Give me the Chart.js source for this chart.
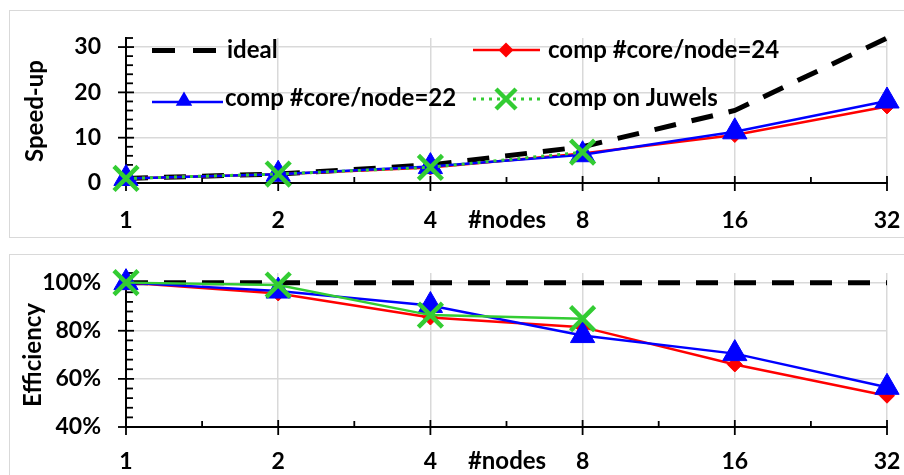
<!DOCTYPE html>
<html><head><meta charset="utf-8">
<script src="https://cdn.jsdelivr.net/npm/chart.js@4/dist/chart.umd.min.js"></script>
<style>
html,body{margin:0;padding:0;background:#fff;width:904px;height:475px;overflow:hidden;}
.box{position:absolute;border:1.5px solid #d9d9d9;box-sizing:border-box;}
#b1{left:9px;top:10px;width:1000px;height:228px;}
#b2{left:9px;top:254px;width:1000px;height:300px;}
#c1{position:absolute;left:0;top:0;}
#c2{position:absolute;left:0;top:245px;}
</style></head><body>
<div class="box" id="b1"></div><div class="box" id="b2"></div>
<canvas id="c1" width="904" height="245"></canvas>
<canvas id="c2" width="904" height="230"></canvas>
<script>
const nodes = [1, 2, 4, 8, 16, 32];
const juwelsNodes = [1, 2, 4, 8];
const speedIdeal = [1, 2, 4, 8, 16, 32];
const speed24 = [1, 1.91, 3.42, 6.52, 10.6, 16.9];
const speed22 = [1, 1.93, 3.62, 6.24, 11.3, 18.1];
const speedJuwels = [1, 1.98, 3.46, 6.8];
const effIdeal = [100, 100, 100, 100, 100, 100];
const eff24 = [100, 95.5, 85.5, 81.5, 66, 53];
const eff22 = [100, 96.5, 90.5, 78, 70.5, 56.5];
const effJuwels = [100, 99, 86.5, 85];
const speedTicks = [0, 10, 20, 30];
const effTicks = [40, 60, 80, 100];
const seriesNames = ['ideal', 'comp #core/node=24', 'comp #core/node=22', 'comp on Juwels'];
const xTitle = '#nodes';
const yTitles = ['Speed-up', 'Efficiency'];

const RED = '#ff0000', BLUE = '#0000ff', GREEN = '#33cc33', BLACK = '#000000';
const FONT = 'Lato, "Open Sans", sans-serif';
const TXT = 'bold 24px ' + FONT;
const RIGHT_EDGE = 887;
Chart.defaults.font.family = FONT;
Chart.defaults.font.size = 23;
Chart.defaults.font.weight = 'bold';
Chart.defaults.color = '#000';

function pts(xs, ys) { return ys.map((v, i) => ({x: xs[i], y: v})); }

function makeDatasets(ideal, s24, s22, sj, juwelsDotted) {
  return [
    {label: seriesNames[0], data: pts(nodes, ideal), borderColor: BLACK, borderWidth: 5,
     borderDash: [22, 16], pointRadius: 0, order: 4, clip: false},
    {label: seriesNames[1], data: pts(nodes, s24), borderColor: RED, backgroundColor: RED, borderWidth: 2.5,
     pointStyle: 'rectRot', pointRadius: 7.5, pointBorderWidth: 1, order: 3, clip: false},
    {label: seriesNames[2], data: pts(nodes, s22), borderColor: BLUE, backgroundColor: BLUE, borderWidth: 2.5,
     pointStyle: 'triangle', pointRadius: 14, pointBorderWidth: 1, order: 2, clip: false},
    {label: seriesNames[3], data: pts(juwelsNodes, sj), borderColor: GREEN, backgroundColor: GREEN,
     borderWidth: juwelsDotted ? 3 : 2.5, borderDash: juwelsDotted ? [3, 5] : [],
     pointStyle: 'crossRot', pointRadius: 17, pointBorderWidth: 4.5, order: 1, clip: false}
  ];
}

function line(ctx, x1, y1, x2, y2) { ctx.beginPath(); ctx.moveTo(x1, y1); ctx.lineTo(x2, y2); ctx.stroke(); }

function tickPlugin(minorStep, majors, yTitle, titleX, titleY) {
  return {
    id: 'ticks',
    beforeDatasetsDraw(chart) {
      const {ctx, chartArea: a, scales: {x, y}} = chart;
      ctx.save();
      ctx.strokeStyle = '#000'; ctx.lineWidth = 1.8;
      nodes.forEach(n => { const px = x.getPixelForValue(n); line(ctx, px, a.bottom - 7, px, a.bottom + 8); });
      for (let i = 0; i < nodes.length - 1; i++) {
        const px = x.getPixelForValue(nodes[i] * Math.SQRT2);
        line(ctx, px, a.bottom - 6, px, a.bottom);
      }
      majors.forEach(v => { const py = y.getPixelForValue(v); line(ctx, a.left - 8, py, a.left + 8, py); });
      for (let v = y.min; v <= y.max + 1e-9; v += minorStep) {
        if (majors.includes(v)) continue;
        const py = y.getPixelForValue(v); line(ctx, a.left, py, a.left + 7, py);
      }
      ctx.restore();
    },
    afterDraw(chart) {
      const {ctx} = chart;
      ctx.save();
      ctx.fillStyle = '#000';
      ctx.font = TXT;
      ctx.textAlign = 'center'; ctx.textBaseline = 'middle';
      ctx.translate(titleX, titleY); ctx.rotate(-Math.PI / 2);
      ctx.fillText(yTitle, 0, 0);
      ctx.restore();
    }
  };
}

function nodesLabelPlugin(yc) {
  return {
    id: 'nodesLabel',
    afterDraw(chart) {
      const ctx = chart.ctx;
      ctx.save();
      ctx.fillStyle = '#000'; ctx.font = TXT;
      ctx.textAlign = 'center'; ctx.textBaseline = 'middle';
      ctx.fillText(xTitle, 507, yc);
      ctx.restore();
    }
  };
}

const legendPlugin = {
  id: 'customLegend',
  afterDraw(chart) {
    const ctx = chart.ctx;
    ctx.save();
    ctx.font = TXT;
    ctx.textAlign = 'left'; ctx.textBaseline = 'middle';
    ctx.fillStyle = '#000';
    // ideal
    ctx.strokeStyle = BLACK; ctx.lineWidth = 5; ctx.setLineDash([23, 18]);
    line(ctx, 152, 50.5, 218, 50.5);
    ctx.setLineDash([]);
    ctx.fillText(seriesNames[0], 227, 50);
    // red
    ctx.strokeStyle = RED; ctx.lineWidth = 2.5;
    line(ctx, 473, 50, 540, 50);
    ctx.fillStyle = RED; ctx.beginPath();
    ctx.moveTo(506 - 7.5, 50); ctx.lineTo(506, 50 - 7.5); ctx.lineTo(506 + 7.5, 50); ctx.lineTo(506, 50 + 7.5); ctx.closePath(); ctx.fill();
    ctx.fillStyle = '#000';
    ctx.fillText(seriesNames[1], 548, 50);
    // blue
    ctx.strokeStyle = BLUE; ctx.lineWidth = 2.5;
    line(ctx, 152, 102, 223, 102);
    ctx.fillStyle = BLUE; ctx.beginPath();
    const r = 9.5, cy = 101;
    ctx.moveTo(184, cy - r); ctx.lineTo(184 + r * 0.866, cy + r * 0.5); ctx.lineTo(184 - r * 0.866, cy + r * 0.5); ctx.closePath(); ctx.fill();
    ctx.fillStyle = '#000';
    ctx.fillText(seriesNames[2], 225, 98);
    // green
    ctx.strokeStyle = GREEN; ctx.lineWidth = 3; ctx.setLineDash([3, 5]);
    line(ctx, 473, 99, 540, 99);
    ctx.setLineDash([]);
    ctx.lineWidth = 4.5;
    const d = 10;
    line(ctx, 506 - d, 99 - d, 506 + d, 99 + d); line(ctx, 506 - d, 99 + d, 506 + d, 99 - d);
    ctx.fillText(seriesNames[3], 548, 98);
    ctx.restore();
  }
};

function xScale(height, pad) {
  return {
    type: 'logarithmic', min: 1, max: 32,
    afterBuildTicks: s => { s.ticks = nodes.map(v => ({value: v})); },
    afterFit: s => { s.height = height; s.paddingLeft = 0; s.paddingRight = 0; },
    ticks: {autoSkip: false, maxRotation: 0, padding: pad, callback: v => String(v)},
    grid: {color: '#d9d9d9', lineWidth: 1.5, drawTicks: false},
    border: {color: '#000', width: 2}
  };
}
function yScale(min, max, ticks, fmt) {
  return {
    min: min, max: max,
    afterBuildTicks: s => { s.ticks = ticks.map(v => ({value: v})); },
    afterFit: s => { s.width = 126; s.paddingTop = 0; s.paddingBottom = 0; },
    ticks: {padding: 25, callback: fmt},
    grid: {color: '#d9d9d9', lineWidth: 1.5, drawTicks: false},
    border: {color: '#000', width: 2}
  };
}

// force the plot area right edge after layout
const areaFix = {
  id: 'areaFix',
  afterLayout(chart) {
    const a = chart.chartArea;
    if (Math.abs(a.right - RIGHT_EDGE) > 0.5) {
      const x = chart.scales.x;
      a.right = RIGHT_EDGE; a.width = a.right - a.left;
      x.right = RIGHT_EDGE; x.width = x.right - x.left;
      x.configure();
      chart.scales.y.right = a.left;
    }
  }
};

new Chart(document.getElementById('c1'), {
  type: 'line',
  data: {datasets: makeDatasets(speedIdeal, speed24, speed22, speedJuwels, true)},
  options: {
    responsive: false, animation: false, devicePixelRatio: 1,
    layout: {padding: {left: 0, right: 904 - RIGHT_EDGE, top: 38, bottom: 0}},
    plugins: {legend: {display: false}, tooltip: {enabled: false}},
    scales: {x: xScale(62, 24), y: yScale(0, 32, speedTicks, v => String(v))}
  },
  plugins: [areaFix, tickPlugin(2, speedTicks, yTitles[0], 35, 111), nodesLabelPlugin(220), legendPlugin]
});

new Chart(document.getElementById('c2'), {
  type: 'line',
  data: {datasets: makeDatasets(effIdeal, eff24, eff22, effJuwels, false)},
  options: {
    responsive: false, animation: false, devicePixelRatio: 1,
    layout: {padding: {left: 0, right: 904 - RIGHT_EDGE, top: 28, bottom: 0}},
    plugins: {legend: {display: false}, tooltip: {enabled: false}},
    scales: {x: xScale(48, 21), y: yScale(40, 104, effTicks, v => v + '%')}
  },
  plugins: [areaFix, tickPlugin(4, effTicks, yTitles[1], 33, 110), nodesLabelPlugin(216)]
});
</script>
</body></html>
